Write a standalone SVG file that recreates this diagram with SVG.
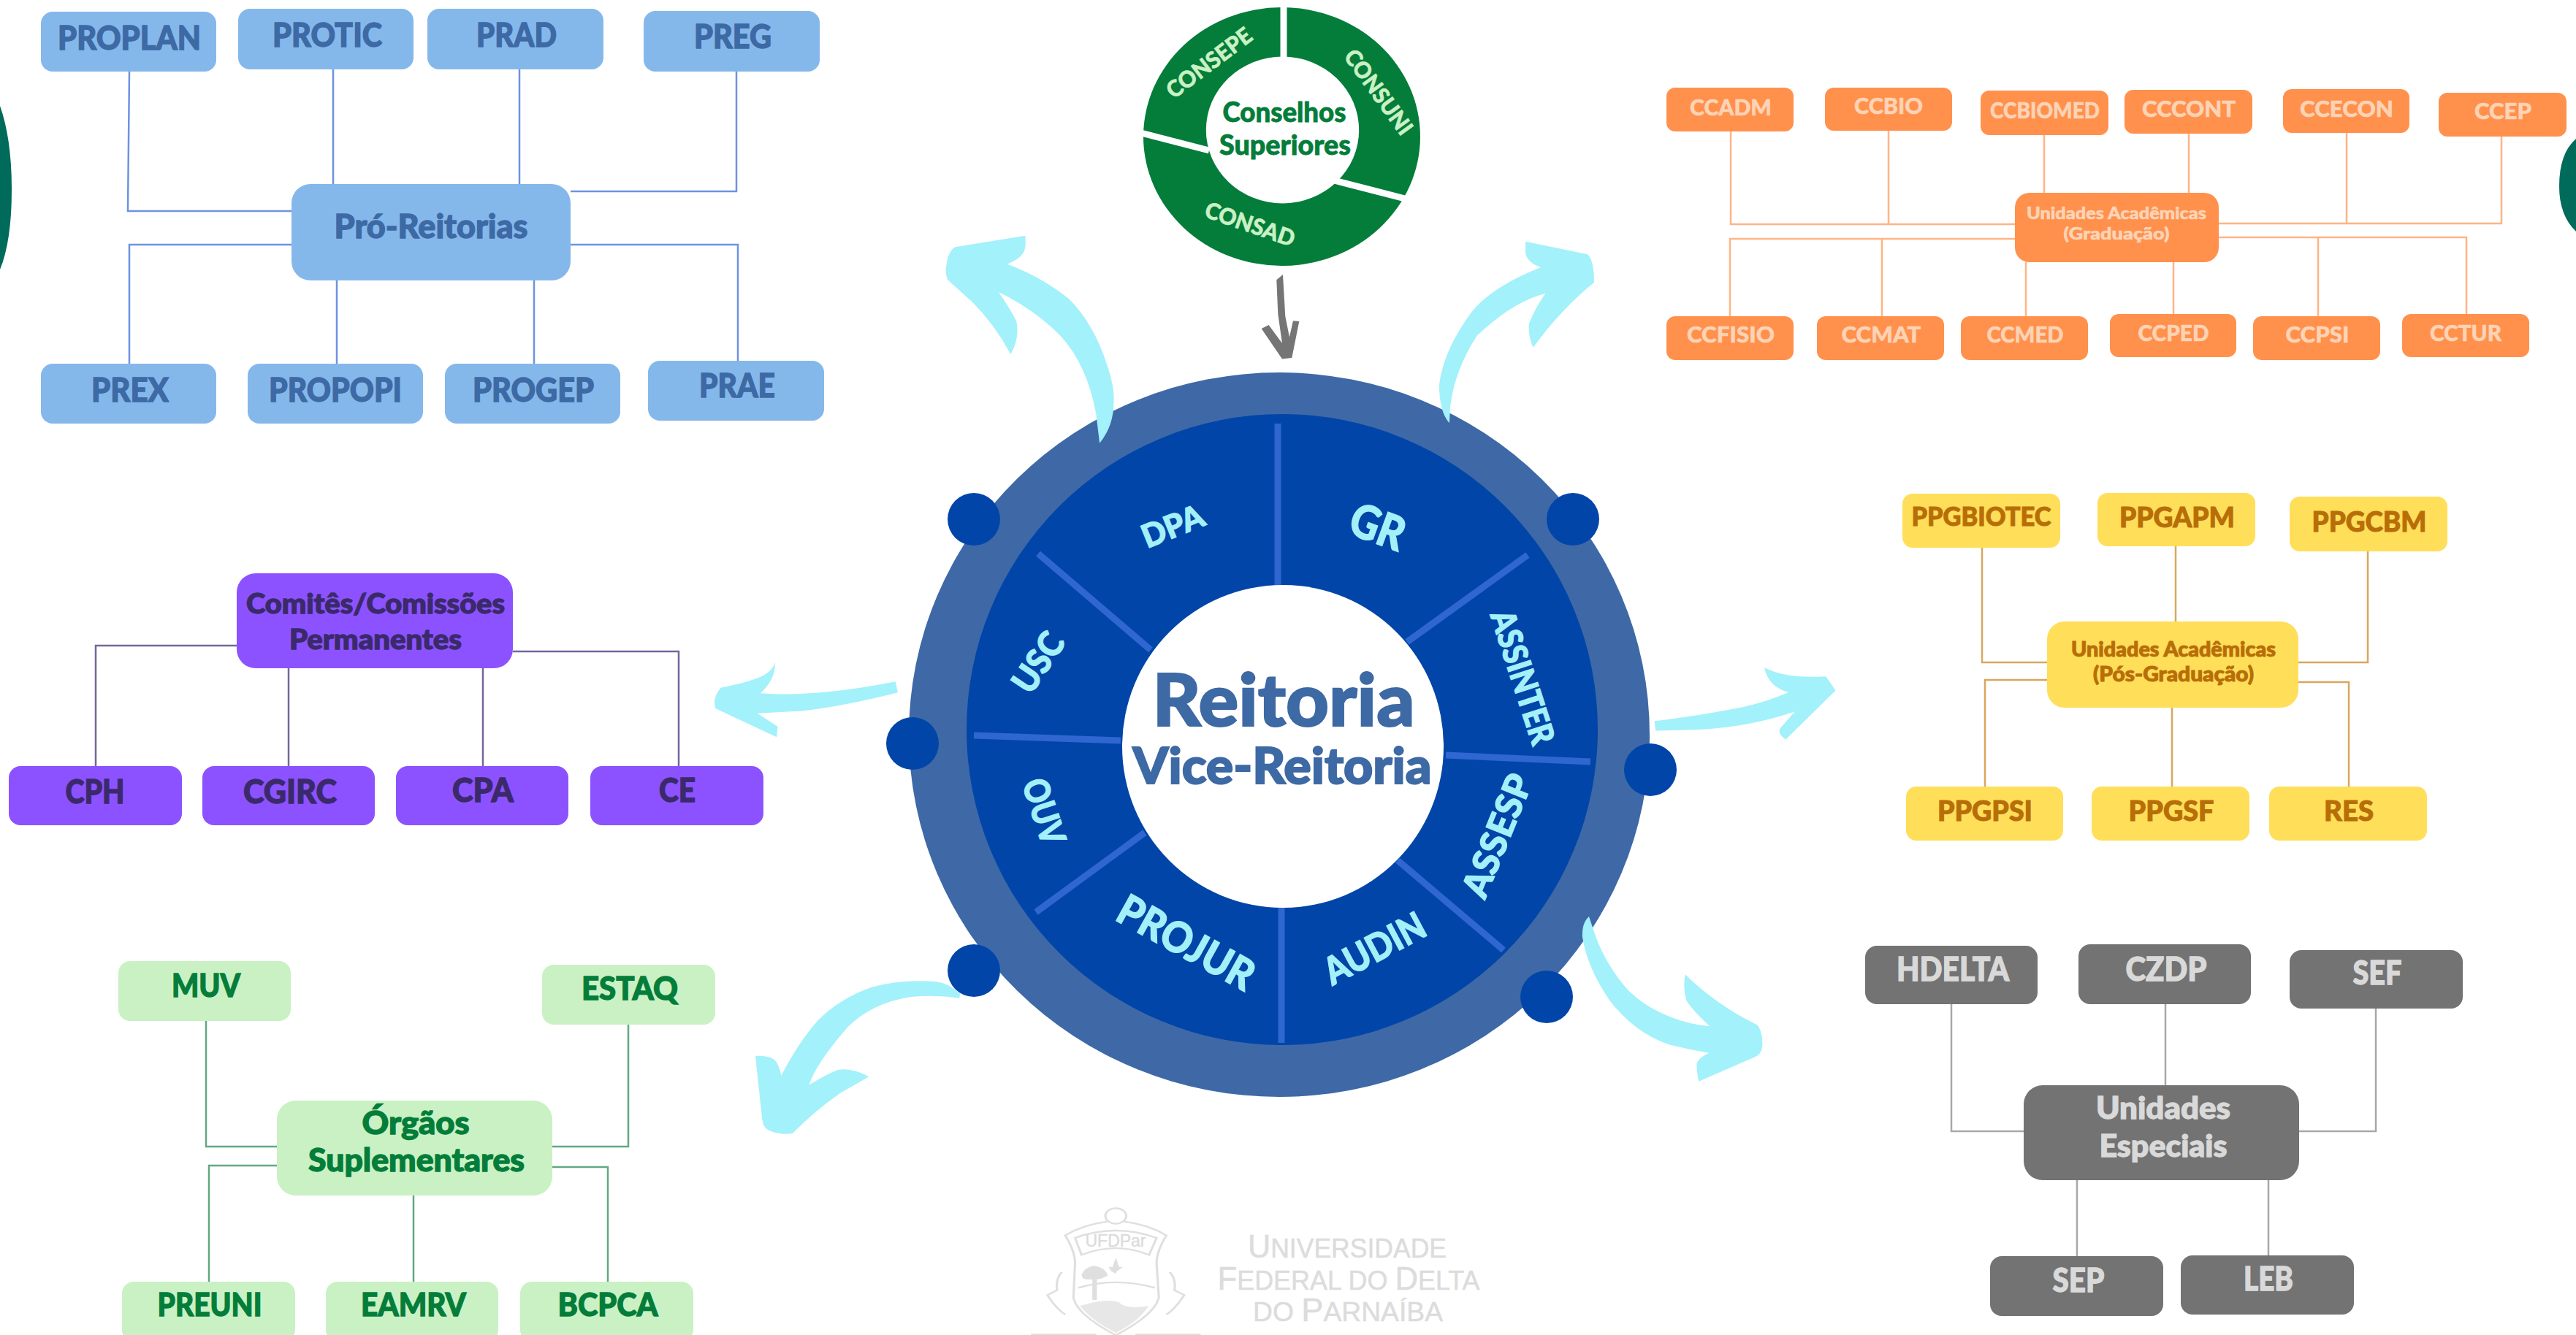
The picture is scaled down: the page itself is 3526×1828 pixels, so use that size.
<svg xmlns="http://www.w3.org/2000/svg" width="3526" height="1828" viewBox="0 0 3526 1828">
<style>
text{font-family:"Lato","Liberation Sans",sans-serif;font-weight:900;text-anchor:middle;stroke-width:1.3;paint-order:stroke}
.l{fill:none;stroke-width:2.5}
.arrow{fill:#a3f1fa}
.b rect{fill:#85b8ea}.b text{fill:#3d69a5;stroke:#3d69a5}.lb{stroke:#6d93e0}
.o rect{fill:#ff914d}.o text{fill:#fdd3b5;stroke:#fdd3b5;stroke-width:.6}.lo{stroke:#ffb485}
.p rect{fill:#8c52ff}.p text{fill:#3b2a6b;stroke:#3b2a6b}.lp{stroke:#75659c}
.g rect{fill:#c9f1c4}.g text{fill:#047d3a;stroke:#047d3a}.lg{stroke:#63a881}
.y rect{fill:#ffde59}.y text{fill:#b86e08;stroke:#b86e08;stroke-width:1}.ly{stroke:#d8a760}
.k rect{fill:#737373}.k text{fill:#d9d9d9;stroke:#d9d9d9}.lk{stroke:#a8a8a8}
.seg{fill:#a4f0f9;stroke:#a4f0f9}
.tit{fill:#3d69a5;stroke:#3d69a5;stroke-width:2}
.con{fill:#047d3a;stroke:#047d3a;stroke-width:.8}
.div{stroke:#2f66d0;stroke-width:9;fill:none}
.dot{fill:#0245a9}
.cs{fill:#c9f1c4;stroke:#c9f1c4;stroke-width:.6}
.wm{fill:#dcdcdc;font-family:"Liberation Sans",sans-serif;font-weight:400;stroke:#dcdcdc;stroke-width:.5}
.cr{fill:none;stroke:#dfdfdf;stroke-width:7}
.crf{fill:#dfdfdf}
</style>

<g id="side-shapes">
<path d="M0,145 Q16,190 16,260 Q16,330 0,369 Z" fill="#006a5b"/>
<path d="M3526,190 Q3503,210 3503,255 Q3503,295 3526,317 Z" fill="#006a5b"/>
</g>

<g id="reitoria">
<ellipse cx="1751" cy="1006" rx="507" ry="496" fill="#3e69a6"/>
<circle cx="1755" cy="999" r="432" fill="#0245a9"/>
<path class="div" d="M1749,580V802M2091,760L1926,879M1979,1034L2177,1043M1913,1178L2058,1301M1754,1243V1428M1567,1140L1418,1249M1333,1007L1534,1014M1421,758L1575,890"/>
<ellipse cx="1756" cy="1022" rx="220" ry="221" fill="#fff"/>
<circle class="dot" cx="1333" cy="711" r="36"/>
<circle class="dot" cx="2153" cy="711" r="36"/>
<circle class="dot" cx="1249" cy="1018" r="36"/>
<circle class="dot" cx="2259" cy="1054" r="36"/>
<circle class="dot" cx="1333" cy="1329" r="36"/>
<circle class="dot" cx="2117" cy="1365" r="36"/>
<text class="tit" x="1757" y="994" font-size="100" textLength="359" lengthAdjust="spacingAndGlyphs">Reitoria</text>
<text class="tit" x="1755" y="1073" font-size="68" textLength="409" lengthAdjust="spacingAndGlyphs">Vice-Reitoria</text>
<text class="seg" transform="translate(1605,720) rotate(-22)" y="16" font-size="44" textLength="88" lengthAdjust="spacingAndGlyphs">DPA</text>
<text class="seg" transform="translate(1886,721) rotate(20)" y="23" font-size="64" textLength="76" lengthAdjust="spacingAndGlyphs">GR</text>
<text class="seg" transform="translate(2085,927) rotate(72)" y="17" font-size="46" textLength="190" lengthAdjust="spacingAndGlyphs">ASSINTER</text>
<text class="seg" transform="translate(2049,1144) rotate(-68)" y="18" font-size="50" textLength="177" lengthAdjust="spacingAndGlyphs">ASSESP</text>
<text class="seg" transform="translate(1881,1298) rotate(-28)" y="19" font-size="52" textLength="150" lengthAdjust="spacingAndGlyphs">AUDIN</text>
<text class="seg" transform="translate(1624,1290) rotate(29)" y="21" font-size="58" textLength="205" lengthAdjust="spacingAndGlyphs">PROJUR</text>
<text class="seg" transform="translate(1429,1111) rotate(72)" y="17" font-size="48" textLength="92" lengthAdjust="spacingAndGlyphs">OUV</text>
<text class="seg" transform="translate(1421,907) rotate(-56)" y="17" font-size="48" textLength="88" lengthAdjust="spacingAndGlyphs">USC</text>
</g>

<g id="conselhos">
<ellipse cx="1754.5" cy="187" rx="189.5" ry="177" fill="#047d3a"/>
<ellipse cx="1755.5" cy="178" rx="104.7" ry="100.5" fill="#fff"/>
<path d="M1757,5V80M1558,181L1655,206M1826,247L1927,273" stroke="#fff" stroke-width="9" fill="none"/>
<text class="con" x="1758" y="167" font-size="38" textLength="169" lengthAdjust="spacingAndGlyphs">Conselhos</text>
<text class="con" x="1759" y="212" font-size="38" textLength="180" lengthAdjust="spacingAndGlyphs">Superiores</text>
<text class="cs" transform="translate(1655,86) rotate(-37)" y="11" font-size="31" textLength="138" lengthAdjust="spacingAndGlyphs">CONSEPE</text>
<text class="cs" transform="translate(1887,126) rotate(54)" y="11" font-size="31" textLength="136" lengthAdjust="spacingAndGlyphs">CONSUNI</text>
<text class="cs" transform="translate(1711,307) rotate(19)" y="11" font-size="31" textLength="128" lengthAdjust="spacingAndGlyphs">CONSAD</text>
</g>

<g id="node-proplan" class="b"><rect x="56" y="16" width="240" height="82" rx="16"/><text x="177" y="68" font-size="45" textLength="196" lengthAdjust="spacingAndGlyphs">PROPLAN</text></g>
<g id="node-protic" class="b"><rect x="326" y="12" width="240" height="83" rx="16"/><text x="448" y="64" font-size="45" textLength="150" lengthAdjust="spacingAndGlyphs">PROTIC</text></g>
<g id="node-prad" class="b"><rect x="585" y="12" width="241" height="83" rx="16"/><text x="707" y="64" font-size="45" textLength="110" lengthAdjust="spacingAndGlyphs">PRAD</text></g>
<g id="node-preg" class="b"><rect x="881" y="15" width="241" height="83" rx="16"/><text x="1003" y="66" font-size="45" textLength="106" lengthAdjust="spacingAndGlyphs">PREG</text></g>
<g id="node-proreitorias" class="b"><rect x="399" y="252" width="382" height="132" rx="26"/><text x="590" y="326" font-size="45" textLength="265" lengthAdjust="spacingAndGlyphs">Pró-Reitorias</text></g>
<g id="node-prex" class="b"><rect x="56" y="498" width="240" height="82" rx="16"/><text x="178" y="550" font-size="45" textLength="106" lengthAdjust="spacingAndGlyphs">PREX</text></g>
<g id="node-propopi" class="b"><rect x="339" y="498" width="240" height="82" rx="16"/><text x="459" y="550" font-size="45" textLength="182" lengthAdjust="spacingAndGlyphs">PROPOPI</text></g>
<g id="node-progep" class="b"><rect x="609" y="498" width="240" height="82" rx="16"/><text x="730" y="550" font-size="45" textLength="166" lengthAdjust="spacingAndGlyphs">PROGEP</text></g>
<g id="node-prae" class="b"><rect x="887" y="494" width="241" height="82" rx="16"/><text x="1009" y="544" font-size="45" textLength="104" lengthAdjust="spacingAndGlyphs">PRAE</text></g>

<g id="node-ccadm" class="o"><rect x="2281" y="120" width="174" height="60" rx="12"/><text x="2369" y="158" font-size="31" textLength="112" lengthAdjust="spacingAndGlyphs">CCADM</text></g>
<g id="node-ccbio" class="o"><rect x="2498" y="120" width="174" height="59" rx="12"/><text x="2585" y="156" font-size="31" textLength="94" lengthAdjust="spacingAndGlyphs">CCBIO</text></g>
<g id="node-ccbiomed" class="o"><rect x="2711" y="124" width="175" height="61" rx="12"/><text x="2799" y="162" font-size="31" textLength="150" lengthAdjust="spacingAndGlyphs">CCBIOMED</text></g>
<g id="node-cccont" class="o"><rect x="2908" y="123" width="175" height="60" rx="12"/><text x="2996" y="160" font-size="31" textLength="128" lengthAdjust="spacingAndGlyphs">CCCONT</text></g>
<g id="node-ccecon" class="o"><rect x="3125" y="122" width="173" height="60" rx="12"/><text x="3212" y="160" font-size="31" textLength="128" lengthAdjust="spacingAndGlyphs">CCECON</text></g>
<g id="node-ccep" class="o"><rect x="3338" y="127" width="175" height="60" rx="12"/><text x="3426" y="163" font-size="31" textLength="78" lengthAdjust="spacingAndGlyphs">CCEP</text></g>
<g id="node-graduacao" class="o"><rect x="2758" y="264" width="279" height="95" rx="20"/><text x="2897" y="300" font-size="22" textLength="246" lengthAdjust="spacingAndGlyphs">Unidades Acadêmicas</text><text x="2897" y="328" font-size="22" textLength="145" lengthAdjust="spacingAndGlyphs">(Graduação)</text></g>
<g id="node-ccfisio" class="o"><rect x="2281" y="433" width="174" height="60" rx="12"/><text x="2369" y="469" font-size="31" textLength="120" lengthAdjust="spacingAndGlyphs">CCFISIO</text></g>
<g id="node-ccmat" class="o"><rect x="2487" y="433" width="174" height="60" rx="12"/><text x="2575" y="469" font-size="31" textLength="109" lengthAdjust="spacingAndGlyphs">CCMAT</text></g>
<g id="node-ccmed" class="o"><rect x="2684" y="433" width="174" height="60" rx="12"/><text x="2772" y="469" font-size="31" textLength="105" lengthAdjust="spacingAndGlyphs">CCMED</text></g>
<g id="node-ccped" class="o"><rect x="2888" y="430" width="173" height="59" rx="12"/><text x="2975" y="467" font-size="31" textLength="97" lengthAdjust="spacingAndGlyphs">CCPED</text></g>
<g id="node-ccpsi" class="o"><rect x="3084" y="433" width="174" height="60" rx="12"/><text x="3172" y="469" font-size="31" textLength="87" lengthAdjust="spacingAndGlyphs">CCPSI</text></g>
<g id="node-cctur" class="o"><rect x="3288" y="430" width="174" height="59" rx="12"/><text x="3375" y="467" font-size="31" textLength="98" lengthAdjust="spacingAndGlyphs">CCTUR</text></g>

<g id="node-comites" class="p"><rect x="324" y="785" width="378" height="130" rx="26"/><text x="514" y="840" font-size="38" textLength="354" lengthAdjust="spacingAndGlyphs">Comitês/Comissões</text><text x="514" y="889" font-size="38" textLength="236" lengthAdjust="spacingAndGlyphs">Permanentes</text></g>
<g id="node-cph" class="p"><rect x="12" y="1049" width="237" height="81" rx="16"/><text x="130" y="1100" font-size="45" textLength="81" lengthAdjust="spacingAndGlyphs">CPH</text></g>
<g id="node-cgirc" class="p"><rect x="277" y="1049" width="236" height="81" rx="16"/><text x="397" y="1100" font-size="45" textLength="128" lengthAdjust="spacingAndGlyphs">CGIRC</text></g>
<g id="node-cpa" class="p"><rect x="542" y="1049" width="236" height="81" rx="16"/><text x="661" y="1098" font-size="45" textLength="84" lengthAdjust="spacingAndGlyphs">CPA</text></g>
<g id="node-ce" class="p"><rect x="808" y="1049" width="237" height="81" rx="16"/><text x="927" y="1098" font-size="45" textLength="50" lengthAdjust="spacingAndGlyphs">CE</text></g>

<g id="node-muv" class="g"><rect x="162" y="1316" width="236" height="82" rx="16"/><text x="282" y="1365" font-size="44" textLength="94" lengthAdjust="spacingAndGlyphs">MUV</text></g>
<g id="node-estaq" class="g"><rect x="742" y="1321" width="237" height="82" rx="16"/><text x="862" y="1369" font-size="44" textLength="132" lengthAdjust="spacingAndGlyphs">ESTAQ</text></g>
<g id="node-orgaos" class="g"><rect x="379" y="1507" width="377" height="130" rx="26"/><text x="569" y="1553" font-size="43" textLength="147" lengthAdjust="spacingAndGlyphs">Órgãos</text><text x="570" y="1604" font-size="43" textLength="296" lengthAdjust="spacingAndGlyphs">Suplementares</text></g>
<g id="node-preuni" class="g"><rect x="167" y="1755" width="237" height="82" rx="16"/><text x="287" y="1802" font-size="44" textLength="143" lengthAdjust="spacingAndGlyphs">PREUNI</text></g>
<g id="node-eamrv" class="g"><rect x="446" y="1755" width="236" height="82" rx="16"/><text x="566" y="1802" font-size="44" textLength="144" lengthAdjust="spacingAndGlyphs">EAMRV</text></g>
<g id="node-bcpca" class="g"><rect x="712" y="1755" width="237" height="82" rx="16"/><text x="832" y="1802" font-size="44" textLength="137" lengthAdjust="spacingAndGlyphs">BCPCA</text></g>

<g id="node-ppgbiotec" class="y"><rect x="2604" y="676" width="216" height="74" rx="14"/><text x="2712" y="720" font-size="36" textLength="191" lengthAdjust="spacingAndGlyphs">PPGBIOTEC</text></g>
<g id="node-ppgapm" class="y"><rect x="2871" y="675" width="216" height="73" rx="14"/><text x="2980" y="722" font-size="38" textLength="158" lengthAdjust="spacingAndGlyphs">PPGAPM</text></g>
<g id="node-ppgcbm" class="y"><rect x="3134" y="680" width="216" height="75" rx="14"/><text x="3243" y="728" font-size="38" textLength="157" lengthAdjust="spacingAndGlyphs">PPGCBM</text></g>
<g id="node-posgraduacao" class="y"><rect x="2802" y="851" width="344" height="118" rx="24"/><text x="2975" y="899" font-size="28" textLength="280" lengthAdjust="spacingAndGlyphs">Unidades Acadêmicas</text><text x="2975" y="933" font-size="28" textLength="220" lengthAdjust="spacingAndGlyphs">(Pós-Graduação)</text></g>
<g id="node-ppgpsi" class="y"><rect x="2609" y="1077" width="215" height="74" rx="14"/><text x="2717" y="1124" font-size="38" textLength="130" lengthAdjust="spacingAndGlyphs">PPGPSI</text></g>
<g id="node-ppgsf" class="y"><rect x="2863" y="1077" width="216" height="74" rx="14"/><text x="2972" y="1124" font-size="38" textLength="117" lengthAdjust="spacingAndGlyphs">PPGSF</text></g>
<g id="node-res" class="y"><rect x="3106" y="1077" width="216" height="74" rx="14"/><text x="3215" y="1124" font-size="38" textLength="68" lengthAdjust="spacingAndGlyphs">RES</text></g>

<g id="node-hdelta" class="k"><rect x="2553" y="1295" width="236" height="80" rx="16"/><text x="2673" y="1343" font-size="45" textLength="154" lengthAdjust="spacingAndGlyphs">HDELTA</text></g>
<g id="node-czdp" class="k"><rect x="2845" y="1293" width="236" height="82" rx="16"/><text x="2965" y="1343" font-size="45" textLength="111" lengthAdjust="spacingAndGlyphs">CZDP</text></g>
<g id="node-sef" class="k"><rect x="3134" y="1301" width="237" height="80" rx="16"/><text x="3254" y="1348" font-size="45" textLength="67" lengthAdjust="spacingAndGlyphs">SEF</text></g>
<g id="node-especiais" class="k"><rect x="2770" y="1486" width="377" height="130" rx="26"/><text x="2961" y="1532" font-size="42" textLength="184" lengthAdjust="spacingAndGlyphs">Unidades</text><text x="2961" y="1584" font-size="42" textLength="175" lengthAdjust="spacingAndGlyphs">Especiais</text></g>
<g id="node-sep" class="k"><rect x="2724" y="1720" width="237" height="82" rx="16"/><text x="2845" y="1769" font-size="45" textLength="71" lengthAdjust="spacingAndGlyphs">SEP</text></g>
<g id="node-leb" class="k"><rect x="2985" y="1719" width="237" height="81" rx="16"/><text x="3105" y="1767" font-size="45" textLength="68" lengthAdjust="spacingAndGlyphs">LEB</text></g>

<g id="logo">
<g transform="translate(1380,1620) scale(0.4464,0.3333)">
<circle class="cr" cx="330" cy="135" r="32"/>
<path class="cr" d="M305,158 Q230,170 175,215 Q205,280 205,330 L200,470 Q210,540 330,625 Q450,540 462,470 L455,330 Q455,280 485,215 Q430,170 355,158 M205,225 Q330,165 455,225 L432,295 Q330,240 225,295 Z M215,430 Q330,385 450,430"/>
<path class="crf" d="M330,305 L340,345 L352,345 L333,362 L330,372 L316,362 L308,345 L320,345 Z"/>
<path class="crf" d="M265,340 Q300,350 305,380 Q280,400 250,395 Q225,400 225,375 Q235,345 265,340 Z M258,395 H272 V480 H258 Z"/>
<path class="crf" d="M220,505 Q300,470 340,490 Q360,520 430,505 Q400,570 330,615 Q260,570 220,505 Z" opacity=".75"/>
<path class="cr" stroke-width="16" d="M165,365 Q145,390 150,440 L120,460 Q150,520 175,540 M495,365 Q515,390 510,440 L540,460 Q510,520 485,540"/>
<path class="cr" d="M70,622 H270 M390,622 H590"/>
</g>
<text class="wm" x="1527" y="1707" font-size="24" textLength="83" lengthAdjust="spacingAndGlyphs">UFDPar</text>
<text class="wm" x="1844" y="1722" font-size="37" textLength="272" lengthAdjust="spacingAndGlyphs"><tspan font-size="45">U</tspan>NIVERSIDADE</text>
<text class="wm" x="1846" y="1766" font-size="37" textLength="359" lengthAdjust="spacingAndGlyphs"><tspan font-size="45">F</tspan>EDERAL DO <tspan font-size="45">D</tspan>ELTA</text>
<text class="wm" x="1845" y="1809" font-size="37" textLength="260" lengthAdjust="spacingAndGlyphs">DO <tspan font-size="45">P</tspan>ARNAÍBA</text>
</g>

<g id="connectors">
<path class="l lb" d="M177,98L175,289H399M456,95V252M711,95V252M1008,98V262H781M177,498V335H399M461,384V498M731,384V498M1010,494V335H781"/>
<path class="l lo" d="M2369,180V307H2758M2585,179V307M2798,185V264M2996,183V264M3212,182V306M3424,187V306H3037M2368,433V327H2758M2576,433V327M2773,359V433M2975,359V430M3173,433V325M3376,430V325H3037"/>
<path class="l lp" d="M131,1049V884H324M395,915V1049M661,915V1049M929,1049V892H702"/>
<path class="l lg" d="M282,1398V1570H379M860,1403V1570H756M286,1755V1596H379M566,1637V1755M832,1755V1598H756"/>
<path class="l ly" d="M2713,750V907H2802M2978,748V851M3241,755V907H3146M2717,1077V931H2802M2973,969V1077M3215,1077V934H3146"/>
<path class="l lk" d="M2671,1375V1549H2770M2964,1375V1486M3252,1381V1549H3147M2843,1616V1720M3105,1616V1719"/>

<path fill="#757575" transform="translate(1500,0) scale(.3333)" d="M742,1150 L768,1128 L778,1300 L795,1385 L810,1318 L835,1320 L805,1470 L765,1475 L680,1350 L710,1335 L765,1410 L748,1290 Z"/>

<path class="arrow" transform="translate(1270,300) scale(.606,.3333)" d="M388,920 L380,800 Q370,700 350,620 Q330,540 300,480 Q240,370 160,300 Q190,380 200,420 Q208,490 187,555 Q150,430 100,340 L45,250 Q38,220 42,190 Q46,130 62,115 L220,68 Q222,110 218,130 Q212,160 180,185 Q260,240 320,330 Q375,430 405,600 Q422,690 420,750 Q420,850 388,920 Z"/>
<path class="arrow" transform="translate(1270,300) scale(.606,.3333)" d="M1178,838 Q1155,790 1155,680 Q1165,540 1225,390 Q1270,280 1385,198 Q1355,180 1350,140 L1350,92 L1490,145 Q1505,170 1505,260 Q1430,370 1367,528 Q1355,470 1358,430 Q1370,370 1395,305 Q1320,340 1240,480 Q1190,620 1180,770 Z"/>
<path class="arrow" transform="translate(0,760) scale(.7975,.3333)" d="M1537,520 L1541,565 Q1450,620 1380,640 L1300,650 L1335,705 L1333,748 L1228,630 Q1222,590 1237,545 Q1290,520 1310,495 Q1328,470 1330,440 Q1332,510 1305,568 Q1400,585 1537,520 Z"/>
<path class="arrow" transform="translate(2250,650) scale(.7334,.523)" d="M20,645 Q100,632 180,610 Q230,595 270,570 Q232,555 225,505 Q265,535 340,528 L358,565 L265,693 Q250,680 254,665 L282,620 Q200,660 100,668 L22,670 Z"/>
<path class="arrow" transform="translate(2130,1240) scale(.3333)" d="M135,45 Q105,70 108,130 Q130,260 220,390 Q320,520 460,570 Q540,590 628,605 Q585,625 577,650 Q578,690 586,722 L825,618 Q850,600 847,560 Q845,510 825,490 Q660,410 530,283 Q520,340 535,390 Q560,430 630,495 Q540,490 440,445 Q340,400 280,330 Q190,220 150,90 Z"/>
<path class="arrow" transform="translate(1020,1320) scale(.3333)" d="M880,140 L882,122 Q830,75 780,72 Q640,62 520,95 Q390,140 300,230 Q220,320 148,458 Q135,400 115,390 Q85,375 42,378 L70,640 Q75,675 100,685 Q150,705 195,695 Q290,600 390,530 L508,463 Q440,425 380,435 Q330,455 262,497 Q290,410 420,260 Q520,160 680,135 Q780,125 880,140 Z"/>
</g>
</svg>
